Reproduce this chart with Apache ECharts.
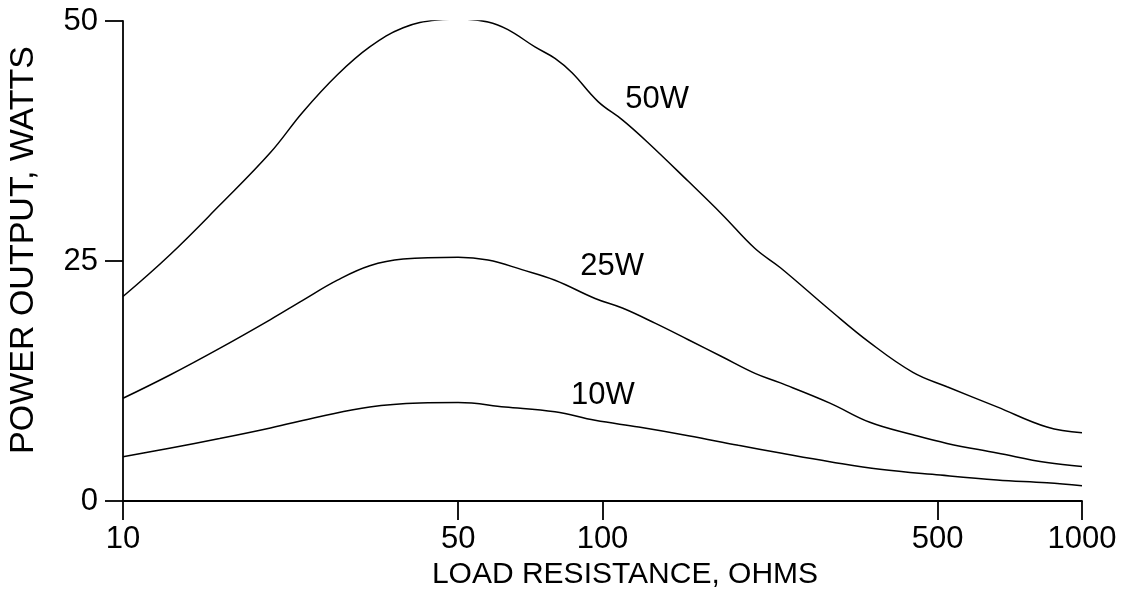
<!DOCTYPE html>
<html>
<head>
<meta charset="utf-8">
<script src="https://cdn.jsdelivr.net/npm/echarts@6/dist/echarts.min.js"></script>
<style>html,body{margin:0;padding:0;background:#fff}#c{width:1131px;height:603px}</style>
</head>
<body>
<div id="c"></div>
<script>
// Load resistance (ohms) and power output (watts)
const r50 = [10,12.5,15.9,20.3,23.7,28,32.7,38.4,45.2,50.5,57.7,63.5,72.3,79.6,86.4,97.9,110,124,151,178,208,235,298,361,444,523,665,845,1000];
const p50 = [21.3,25.6,30.8,36.3,40.5,44.4,47.3,49.3,50.1,50.2,49.9,49.1,47.3,46.1,44.6,41.6,39.7,37.4,33.3,29.8,26.3,24.3,19.9,16.5,13.4,11.9,9.8,7.7,7.1];
const r25 = [10,12.5,15.9,20.3,23.7,28,32.7,38.4,50,57.7,67.9,79.6,96.5,110,129,151,178,208,235,298,361,444,523,665,845,1000];
const p25 = [10.7,13.1,15.9,18.9,20.9,23.0,24.5,25.2,25.4,25.1,24.1,23.0,21.1,20.1,18.5,16.8,15.0,13.3,12.3,10.2,8.2,6.9,6.0,5.0,4.0,3.6];
const r10 = [10,12.5,15.9,20.3,25.8,32.7,41.6,50,62.6,79.6,96.5,119,151,192,235,298,379,506,665,845,1000];
const p10 = [4.6,5.5,6.5,7.6,8.8,9.8,10.2,10.25,9.8,9.3,8.4,7.7,6.8,5.8,5.0,4.1,3.3,2.7,2.2,1.9,1.6];
const curveNames = ['50W','25W','10W'];
const labelR = [130, 104.7, 100.2];
const labelP = [41.8, 24.4, 11.0];
const xTicks = [10, 50, 100, 500, 1000];
const yTicks = [0, 25, 50];
const xTitle = 'LOAD RESISTANCE, OHMS';
const yTitle = 'POWER OUTPUT, WATTS';

const zip = (a, b) => a.map((v, i) => [v, b[i]]);
const font = 'Liberation Sans, Arial, Helvetica, sans-serif';
const lineStyle = {color: '#000', width: 1.5};
const curves = [[r50, p50], [r25, p25], [r10, p10]];

const chart = echarts.init(document.getElementById('c'), null, {renderer: 'canvas'});
chart.setOption({
  animation: false,
  backgroundColor: '#fff',
  grid: {left: 123, right: 49, top: 21, bottom: 102, containLabel: false, outerBoundsMode: 'none'},
  xAxis: {
    type: 'log', logBase: 10, min: 10, max: 1000,
    name: xTitle, nameLocation: 'middle', nameGap: 56,
    nameTextStyle: {fontFamily: font, fontSize: 30, color: '#000', padding: [0, 0, 0, 45]},
    axisLine: {lineStyle: {color: '#000', width: 1.8}},
    axisTick: {show: true, length: 19, inside: false, customValues: xTicks, lineStyle: {color: '#000', width: 1.8}},
    minorTick: {show: false},
    axisLabel: {customValues: xTicks, fontFamily: font, fontSize: 31, color: '#000', margin: 23,
      formatter: v => String(Math.round(v))},
    splitLine: {show: false}
  },
  yAxis: {
    type: 'value', min: 0, max: 50, interval: 25,
    name: yTitle, nameLocation: 'middle', nameGap: 82,
    nameTextStyle: {fontFamily: font, fontSize: 34, color: '#000', padding: [0, 0, 0, 22]},
    axisLine: {show: true, lineStyle: {color: '#000', width: 1.8}},
    axisTick: {show: true, length: 18, inside: false, lineStyle: {color: '#000', width: 1.8}},
    axisLabel: {fontFamily: font, fontSize: 31, color: '#000', margin: 25},
    splitLine: {show: false}
  },
  series: curves.map((c, i) => ({
    type: 'line', name: curveNames[i], data: zip(c[0], c[1]),
    smooth: 0.4, showSymbol: false, symbol: 'none',
    lineStyle: lineStyle, z: 3
  })).concat([{
    type: 'scatter', symbolSize: 0,
    data: labelR.map((v, i) => [v, labelP[i], curveNames[i]]),
    label: {show: true, position: 'inside', formatter: p => p.data[2],
      fontFamily: font, fontSize: 31, color: '#000'},
    itemStyle: {opacity: 1},
    silent: true
  }])
});
</script>
</body>
</html>
